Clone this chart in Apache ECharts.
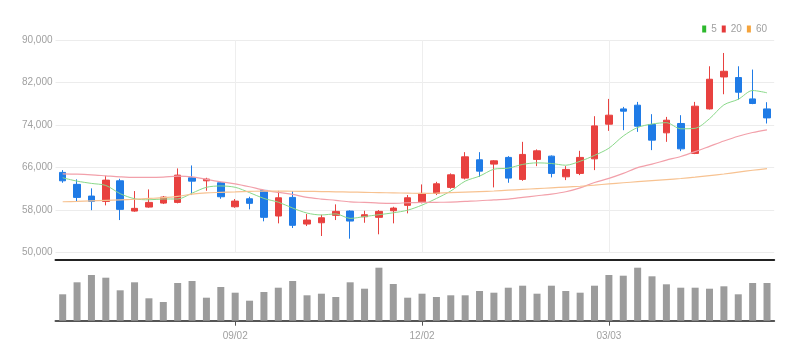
<!DOCTYPE html>
<html>
<head>
<meta charset="utf-8">
<script src="https://cdn.jsdelivr.net/npm/echarts@6/dist/echarts.min.js"></script>
<style>
html,body{margin:0;padding:0;background:#fff;}
#chart{width:808px;height:361px;}
</style>
</head>
<body>
<div id="chart"></div>
<script>
var categories = ["06/10","06/17","06/24","07/01","07/08","07/15","07/22","07/29","08/05","08/12","08/19","08/26","09/02","09/09","09/16","09/23","09/30","10/07","10/14","10/21","10/28","11/04","11/11","11/18","11/25","12/02","12/09","12/16","12/23","12/30","01/06","01/13","01/20","01/27","02/03","02/10","02/17","02/24","03/03","03/10","03/17","03/24","03/31","04/07","04/14","04/21","04/28","05/05","05/12","05/19"];
var shownLabels = ["09/02","12/02","03/03"];

var opens  = [65100,62850,60650,59650,63520,57830,58580,59330,59460,64090,63520,63150,58640,60140,61720,56900,60400,55390,55630,57020,57830,56760,56650,57890,58900,59580,61150,62280,64030,67470,66660,67920,63780,67540,68160,64270,64910,67650,74170,77040,77740,74110,72540,74300,68670,77040,83050,82940,78920,77040];
var closes = [63520,60400,59650,63650,58150,58340,59460,60460,64590,63460,63840,60520,59710,59280,56650,60330,55150,56140,56570,57770,55950,57140,57770,58390,60330,61150,62960,64650,68030,65340,67280,64030,68480,69160,64910,65660,67920,73850,75860,76610,73790,71170,74920,69530,77550,82620,84120,80180,78060,75350];
var lows   = [63150,59580,58000,58900,56140,57700,58450,59150,59280,60840,61640,60140,58450,58150,55900,55520,54640,55010,53140,56140,52630,55630,53460,55520,57400,59280,60840,62020,63780,64270,62280,63150,63520,66280,64160,63650,64590,65530,72910,73040,72720,69290,70850,69100,68540,76930,79800,78800,77930,74300];
var highs  = [65530,63800,62100,64460,63900,61590,61900,60650,65850,66410,64090,63330,60100,60520,61770,61640,61590,57270,57140,59090,57960,57890,58020,58640,60840,62840,63330,64910,68910,68910,67410,68160,70850,69420,68290,66280,69160,75670,78920,77420,78360,76050,75540,75860,78360,85060,87560,85060,84440,78300];

var ma5  = [64090,63460,63030,62650,61100,60150,59950,60100,60100,61200,62300,62550,62300,61300,60200,59500,58400,57450,57100,57300,56450,56800,57150,57500,58000,58950,60200,61600,63450,64400,65700,65900,66600,66900,66780,66450,67200,68300,69650,71950,73550,74200,74450,73300,73400,75200,77800,78850,80500,80070];
var ma20 = [64840,64780,64650,64460,64270,64160,64160,64220,64400,64270,63780,63330,62950,62400,61770,61340,60970,60400,60090,59840,59550,59460,59330,59280,59390,59450,59480,59520,59650,59770,59950,60090,60400,60710,61020,61460,62200,63200,63970,64910,66000,66660,67410,68100,69000,70000,71000,71900,72600,73100];
var ma60 = [59580,59650,59750,59850,59950,60050,60200,60350,60600,61000,61250,61350,61450,61550,61600,61580,61560,61530,61500,61450,61400,61350,61300,61250,61200,61150,61200,61300,61400,61500,61600,61750,61900,62050,62200,62350,62500,62700,62950,63150,63350,63550,63750,63950,64200,64500,64800,65150,65500,65800];

var volumes = [264,384,457,430,304,384,224,187,377,397,230,337,280,200,287,330,397,254,270,237,384,320,530,367,230,270,237,254,254,297,280,330,350,270,350,297,280,350,457,450,530,444,364,330,330,320,344,264,377,377];

var yTicks = {min:50000, max:90000, step:8000};

var RED = '#e8413f', BLUE = '#1f7be6';
var FONT = '"Liberation Sans Narrow","Liberation Sans",sans-serif';

var kdata = categories.map(function(c,i){ return [opens[i], closes[i], lows[i], highs[i]]; });
function showIdx(idx, val){ return shownLabels.indexOf(val) >= 0; }
function fmt(v){ return String(v).replace(/\B(?=(\d{3})+(?!\d))/g, ','); }

var chart = echarts.init(document.getElementById('chart'), null, {renderer:'canvas'});
chart.setOption({
  animation:false,
  backgroundColor:'#fff',
  legend:{
    right:36, top:19, icon:'rect', itemWidth:4, itemHeight:7, itemGap:5,
    textStyle:{color:'#a0a0a0', fontSize:10, fontFamily:FONT},
    data:[{name:'5', itemStyle:{color:'#2cb82c'}},{name:'20', itemStyle:{color:'#e53a3a'}},{name:'60', itemStyle:{color:'#f5a33a'}}]
  },
  grid:[
    {left:55.5, right:33.8, top:40, height:212.7},
    {left:55.5, right:33.8, top:260, height:60.7}
  ],
  xAxis:[
    {type:'category', gridIndex:0, data:categories, boundaryGap:true,
     axisLine:{show:false}, axisTick:{show:false}, axisLabel:{show:false}, splitLine:{show:false}},
    {type:'category', gridIndex:1, data:categories, boundaryGap:true, position:'bottom',
     axisLine:{show:true, lineStyle:{color:'#555', width:2}},
     axisTick:{show:true, alignWithLabel:true, interval:showIdx, length:5, lineStyle:{color:'#555'}},
     axisLabel:{show:true, interval:showIdx, color:'#a0a0a0', fontSize:10, fontFamily:FONT, margin:11},
     splitLine:{show:false}},
    {type:'category', gridIndex:1, data:categories, boundaryGap:true, position:'top',
     axisLine:{show:true, lineStyle:{color:'#222', width:2}},
     axisTick:{show:false}, axisLabel:{show:false}, splitLine:{show:false}}
  ],
  yAxis:[
    {type:'value', gridIndex:0, min:yTicks.min, max:yTicks.max, interval:yTicks.step, position:'left',
     axisLine:{show:false}, axisTick:{show:false},
     axisLabel:{color:'#a0a0a0', fontSize:10, fontFamily:FONT, margin:3, formatter:fmt},
     splitLine:{show:true, lineStyle:{color:'#ececec', width:1}}},
    {type:'value', gridIndex:1, min:0, max:607, show:false, splitLine:{show:false}}
  ],
  series:[
    {type:'candlestick', name:'K', xAxisIndex:0, yAxisIndex:0, data:kdata, barWidth:7,
     itemStyle:{color:RED, color0:BLUE, borderColor:RED, borderColor0:BLUE, borderWidth:1},
     markLine:{silent:true, symbol:['none','none'], label:{show:false}, z:1,
       lineStyle:{color:'#eeeeee', type:'solid', width:1},
       data:shownLabels.map(function(c){ return {xAxis:c}; })}},
    {type:'line', name:'5', xAxisIndex:0, yAxisIndex:0, data:ma5, symbol:'none', smooth:0.3,
     lineStyle:{color:'#8ad98a', width:1}, itemStyle:{color:'#8ad98a'}},
    {type:'line', name:'20', xAxisIndex:0, yAxisIndex:0, data:ma20, symbol:'none', smooth:0.3,
     lineStyle:{color:'#f2a0aa', width:1.2}, itemStyle:{color:'#f2a0aa'}},
    {type:'line', name:'60', xAxisIndex:0, yAxisIndex:0, data:ma60, symbol:'none', smooth:0.3,
     lineStyle:{color:'#f7c291', width:1.2}, itemStyle:{color:'#f7c291'}},
    {type:'bar', name:'vol', xAxisIndex:1, yAxisIndex:1, data:volumes, barWidth:7,
     itemStyle:{color:'#9c9c9c'}}
  ]
});
</script>
</body>
</html>
